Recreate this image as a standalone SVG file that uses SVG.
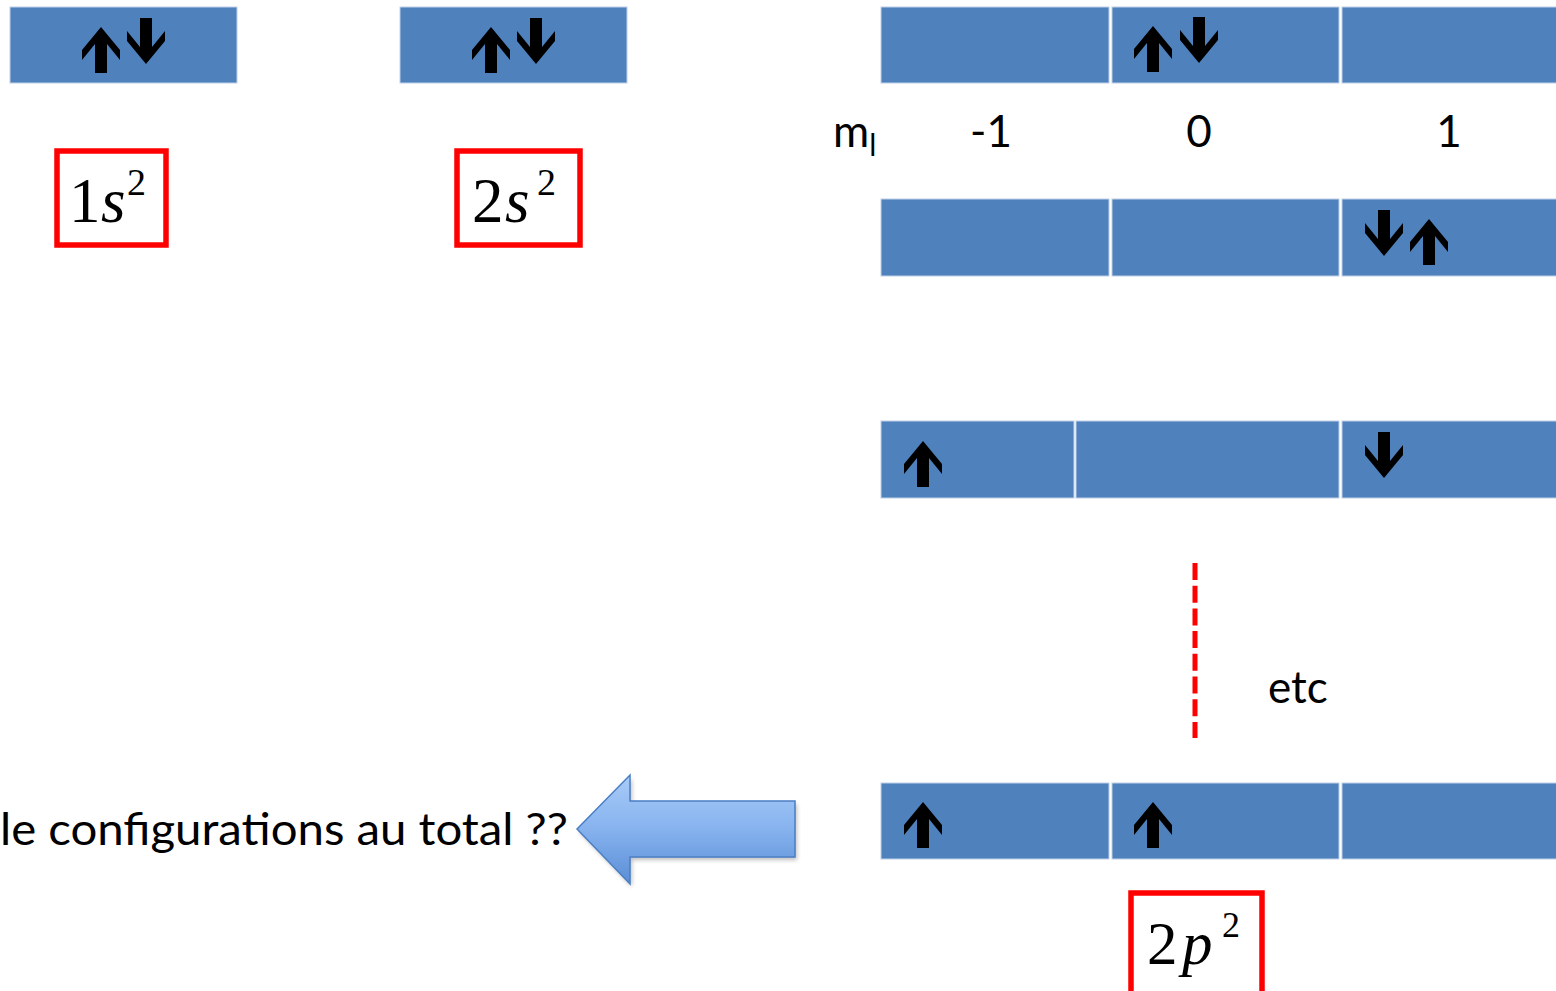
<svg xmlns="http://www.w3.org/2000/svg" xmlns:xlink="http://www.w3.org/1999/xlink" width="1556" height="991" viewBox="0 0 1556 991">
  <style>
    .cell { fill: #4F81BD; stroke: #BFD0E8; stroke-width: 1; }
    .spin { fill: #000; }
    .label { font-family: Lato, "Liberation Sans", sans-serif; font-size: 44px; fill: #000; }
    .frame { fill: #fff; stroke: #FF0000; stroke-width: 5.5; }
    .math { font-family: "Liberation Serif", "DejaVu Serif", serif; fill: #000; }
    .it { font-style: italic; }
  </style>
  <defs>
    <!-- spin arrow, tip at the origin, pointing up -->
    <path id="up" d="M0,0 L19,23 L19,33 L6,17 L6,46 L-6,46 L-6,17 L-19,33 L-19,23 Z"/>
    <linearGradient id="blockFill" x1="0" y1="0" x2="0" y2="1">
      <stop offset="0" stop-color="#A9CCF8"/>
      <stop offset="0.5" stop-color="#86B2EE"/>
      <stop offset="1" stop-color="#5A8ED6"/>
    </linearGradient>
    <filter id="soft" x="-10%" y="-10%" width="130%" height="130%">
      <feGaussianBlur stdDeviation="2"/>
    </filter>
  </defs>

  <!-- 1s orbital -->
  <g id="orb-1s">
    <rect class="cell" x="10" y="7" width="227" height="76"/>
    <use href="#up" class="spin" transform="translate(101,27)"/>
    <use href="#up" class="spin" transform="translate(146,64) scale(1,-1)"/>
  </g>
  <g id="label-1s">
    <rect class="frame" x="57" y="151" width="109" height="94"/>
    <text class="math" y="222" font-size="63"><tspan x="69">1</tspan><tspan x="101" class="it">s</tspan><tspan x="127" y="195" font-size="38">2</tspan></text>
  </g>

  <!-- 2s orbital -->
  <g id="orb-2s">
    <rect class="cell" x="400" y="7" width="227" height="76"/>
    <use href="#up" class="spin" transform="translate(491,27)"/>
    <use href="#up" class="spin" transform="translate(536,64) scale(1,-1)"/>
  </g>
  <g id="label-2s">
    <rect class="frame" x="457" y="151" width="123" height="94"/>
    <text class="math" y="222" font-size="63"><tspan x="472">2</tspan><tspan x="505" class="it">s</tspan><tspan x="537" y="195" font-size="38">2</tspan></text>
  </g>

  <!-- m_l axis -->
  <g id="ml-axis">
    <text class="label" x="833" y="147">m<tspan font-size="30" y="156">l</tspan></text>
    <text class="label" x="991" y="147" text-anchor="middle">-1</text>
    <text class="label" x="1199" y="147" text-anchor="middle">0</text>
    <text class="label" x="1449" y="147" text-anchor="middle">1</text>
  </g>

  <!-- 2p configuration rows -->
  <g id="row-1">
    <rect class="cell" x="881" y="7" width="228" height="76"/>
    <rect class="cell" x="1112" y="7" width="227" height="76"/>
    <rect class="cell" x="1342" y="7" width="216" height="76"/>
    <use href="#up" class="spin" transform="translate(1153,26)"/>
    <use href="#up" class="spin" transform="translate(1199,63) scale(1,-1)"/>
  </g>

  <g id="row-2">
    <rect class="cell" x="881" y="199" width="228" height="77"/>
    <rect class="cell" x="1112" y="199" width="227" height="77"/>
    <rect class="cell" x="1342" y="199" width="216" height="77"/>
    <use href="#up" class="spin" transform="translate(1384,256) scale(1,-1)"/>
    <use href="#up" class="spin" transform="translate(1429,219)"/>
  </g>

  <g id="row-3">
    <rect class="cell" x="881" y="421" width="193" height="77"/>
    <rect class="cell" x="1076" y="421" width="263" height="77"/>
    <rect class="cell" x="1342" y="421" width="216" height="77"/>
    <use href="#up" class="spin" transform="translate(923,441)"/>
    <use href="#up" class="spin" transform="translate(1384,478) scale(1,-1)"/>
  </g>

  <g id="row-4">
    <rect class="cell" x="881" y="783" width="228" height="76"/>
    <rect class="cell" x="1112" y="783" width="227" height="76"/>
    <rect class="cell" x="1342" y="783" width="216" height="76"/>
    <use href="#up" class="spin" transform="translate(923,802)"/>
    <use href="#up" class="spin" transform="translate(1153,802)"/>
  </g>

  <g id="label-2p">
    <rect class="frame" x="1131" y="893" width="131" height="110"/>
    <text class="math" y="964" font-size="61"><tspan x="1147">2</tspan><tspan x="1182" class="it">p</tspan><tspan x="1222" y="937" font-size="36">2</tspan></text>
  </g>

  <!-- continuation marker -->
  <g id="etc">
    <text class="label" x="1268" y="703" font-size="46">etc</text>
  </g>

  <g id="question">
    <text class="label" x="0" y="845" textLength="568" lengthAdjust="spacingAndGlyphs">le configurations au total ??</text>
  </g>

  <g id="connectors">
    <line x1="1195" y1="563" x2="1195" y2="738" stroke="#FF0000" stroke-width="5" stroke-dasharray="17,5.7"/>
    <!-- block arrow pointing left -->
    <path d="M579,832 L632,778 L632,804 L797,804 L797,860 L632,860 L632,887 Z" fill="#000" opacity="0.25" filter="url(#soft)"/>
    <path d="M577,829 L630,775 L630,801 L795,801 L795,857 L630,857 L630,884 Z" fill="url(#blockFill)" stroke="#4A7EC4" stroke-width="1.5" stroke-linejoin="miter"/>
  </g>
</svg>
